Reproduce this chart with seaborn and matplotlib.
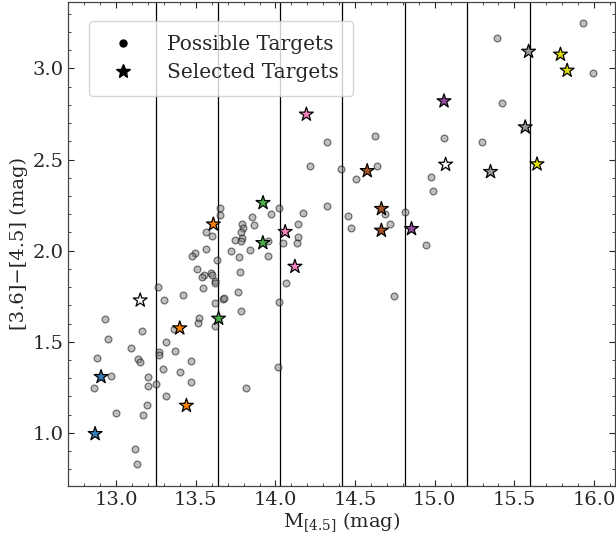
import matplotlib
matplotlib.use("Agg")
import matplotlib.pyplot as plt
from matplotlib.lines import Line2D
from matplotlib.ticker import MultipleLocator
import seaborn as sns
import pandas as pd

# Candidate brown dwarfs: absolute 4.5 micron magnitude vs. IRAC colour
possible_m45 = [
    12.929, 12.950, 12.880, 12.968, 12.859, 13.000, 13.090, 13.160, 13.139, 13.151,
    13.200, 13.197, 13.191, 13.170, 13.120, 13.130, 13.261, 13.303, 13.311, 13.271,
    13.271, 13.292, 13.250, 13.311, 13.370, 13.401, 13.471, 13.471, 13.366, 13.420,
    13.542, 13.620, 13.622, 13.620, 13.673, 13.676, 13.523, 13.511, 13.622, 13.763,
    13.782, 13.813, 14.013, 14.023, 14.066, 13.780, 13.593, 13.551, 13.538, 13.509,
    13.635, 13.652, 13.652, 13.563, 13.603, 13.792, 13.853, 13.864, 13.973, 14.023,
    14.175, 14.143, 14.143, 14.133, 14.047, 13.798, 13.782, 13.788, 13.784, 13.744,
    13.843, 13.952, 13.952, 13.723, 13.773, 13.563, 13.492, 13.479, 13.603, 14.219,
    14.326, 14.414, 14.326, 14.627, 14.637, 14.507, 14.456, 14.477, 14.688, 14.717,
    14.816, 14.948, 14.978, 14.988, 15.058, 15.390, 15.419, 15.299, 15.932, 15.993,
    14.747,
]
possible_color = [
    1.626, 1.514, 1.410, 1.310, 1.244, 1.112, 1.467, 1.557, 1.408, 1.392,
    1.308, 1.260, 1.156, 1.099, 0.911, 0.830, 1.802, 1.727, 1.500, 1.445,
    1.429, 1.350, 1.267, 1.200, 1.448, 1.333, 1.396, 1.278, 1.572, 1.758,
    1.798, 1.835, 1.822, 1.714, 1.736, 1.738, 1.633, 1.604, 1.588, 1.776,
    1.668, 1.244, 1.361, 1.721, 1.825, 1.884, 1.879, 1.866, 1.857, 1.902,
    1.948, 2.235, 2.195, 2.105, 2.083, 2.149, 2.184, 2.142, 2.204, 2.232,
    2.208, 2.149, 2.074, 2.043, 2.040, 2.122, 2.105, 2.067, 2.056, 2.061,
    2.003, 2.056, 1.970, 1.996, 1.964, 2.007, 1.986, 1.970, 1.868, 2.464,
    2.596, 2.449, 2.248, 2.631, 2.464, 2.391, 2.188, 2.122, 2.199, 2.149,
    2.211, 2.034, 2.407, 2.325, 2.620, 3.168, 2.810, 2.598, 3.249, 2.976,
    1.754,
]

# Selected targets, three per magnitude bin
target_m45 = [
    12.868, 12.905, 13.151,
    13.399, 13.441, 13.610,
    13.643, 13.922, 13.921,
    14.061, 14.122, 14.194,
    14.576, 14.665, 14.665,
    14.854, 15.058, 15.068,
    15.350, 15.568, 15.589,
    15.642, 15.789, 15.831,
]
target_color = [
    0.995, 1.308, 1.728,
    1.575, 1.150, 2.145,
    1.628, 2.263, 2.043,
    2.104, 1.913, 2.748,
    2.438, 2.230, 2.111,
    2.120, 2.821, 2.473,
    2.433, 2.678, 3.093,
    2.475, 3.077, 2.989,
]
target_group = [
    "b1", "b1", "none",
    "b2", "b2", "b2",
    "b3", "b3", "b3",
    "b4", "b4", "b4",
    "b5", "b5", "b5",
    "b6", "b6", "none",
    "b7", "b7", "b7",
    "b8", "b8", "b8",
]
group_palette = {
    "b1": "#377eb8", "b2": "#ff7f00", "b3": "#4daf4a", "b4": "#f781bf",
    "b5": "#a65628", "b6": "#984ea3", "b7": "#999999", "b8": "#dede00",
    "none": "#ffffff",
}

# Interior edges of the eight equal-width magnitude bins
bin_edges = [13.25, 13.64, 14.03, 14.42, 14.815, 15.205, 15.60]

legend_labels = ["Possible Targets", "Selected Targets"]

sns.set_style("ticks")
plt.rcParams["font.family"] = ["DejaVu Serif"]
plt.rcParams["mathtext.fontset"] = "dejavuserif"
plt.rcParams["font.size"] = 14

fig = plt.figure(figsize=(6.16, 5.35), dpi=100)
ax = fig.add_axes([0.111, 0.092, 0.887, 0.905])

possible = pd.DataFrame({"m": possible_m45, "c": possible_color})
targets = pd.DataFrame({"m": target_m45, "c": target_color, "g": target_group})

sns.scatterplot(data=possible, x="m", y="c", ax=ax, color="gray", alpha=0.5,
                edgecolor="black", linewidth=0.9, s=24, legend=False, zorder=2)

for edge in bin_edges:
    ax.axvline(edge, color="black", lw=0.9, zorder=1)

sns.scatterplot(data=targets, x="m", y="c", hue="g", palette=group_palette,
                marker="*", s=110, edgecolor="black", linewidth=0.9,
                legend=False, ax=ax, zorder=3)

ax.set_xlim(12.70, 16.13)
ax.set_ylim(0.71, 3.367)
ax.xaxis.set_major_locator(MultipleLocator(0.5))
ax.xaxis.set_minor_locator(MultipleLocator(0.1))
ax.yaxis.set_major_locator(MultipleLocator(0.5))
ax.yaxis.set_minor_locator(MultipleLocator(0.1))
ax.tick_params(which="both", direction="in", top=True, right=True, labelsize=14)
ax.tick_params(which="major", length=4, width=0.8)
ax.tick_params(which="minor", length=2, width=0.6)
for sp in ax.spines.values():
    sp.set_linewidth(0.9)
    sp.set_color("#444444")

ax.set_xlabel(r"M$_{[4.5]}$ (mag)", fontsize=14, labelpad=1)
ax.set_ylabel("[3.6]\u2212[4.5] (mag)", fontsize=14, labelpad=3)

handles = [
    Line2D([], [], ls="none", marker="o", color="black", markersize=5),
    Line2D([], [], ls="none", marker="*", color="black", markersize=10),
]
ax.legend(handles, legend_labels, loc="upper left", bbox_to_anchor=(0.037, 0.96),
          borderaxespad=0, fontsize=14.5, frameon=True, fancybox=True,
          framealpha=0.8, edgecolor="#cccccc", handletextpad=1.2,
          borderpad=0.7, labelspacing=0.45)

fig.savefig("out.png", dpi=100)
